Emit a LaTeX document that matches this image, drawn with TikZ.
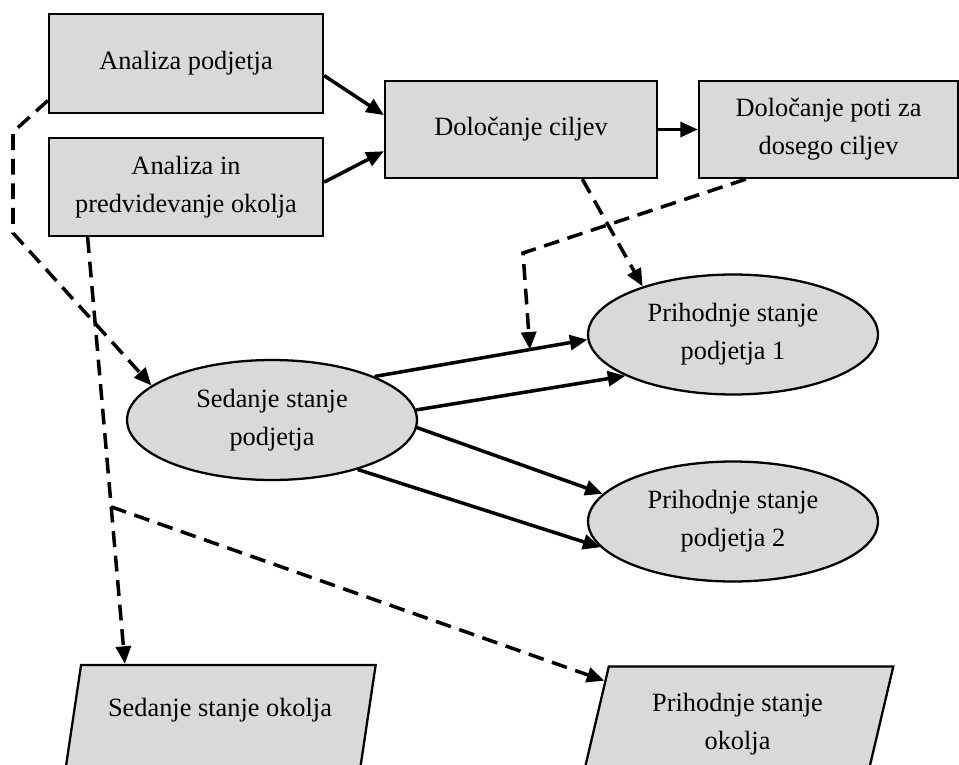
\documentclass[tikz,border=0pt]{standalone}
\usepackage{fontspec}
\setmainfont{Liberation Serif}
\usetikzlibrary{arrows.meta,shapes.geometric}
\definecolor{boxgray}{HTML}{D9D9D9}

\begin{document}
\begin{tikzpicture}[
    x=0.02cm,y=-0.02cm,
    every node/.style={font=\fontsize{15}{21.6}\selectfont,align=center,inner sep=0pt},
    box/.style={draw,line width=1.3pt,fill=boxgray},
    ell/.style={ellipse,draw,line width=1.3pt,fill=boxgray,minimum width=5.8cm,minimum height=2.4cm},
    para/.style={trapezium,trapezium left angle=73.8,trapezium right angle=106.2,trapezium stretches=true,draw,line width=1.3pt,fill=boxgray,minimum width=6.24cm,minimum height=2.24cm},
    arr/.style={-{Triangle[length=10pt,width=8.5pt]},line width=2pt},
    darr/.style={arr,dash pattern=on 9pt off 5pt}
]
\useasboundingbox (0,0) rectangle (959,764);
\clip (0,0) rectangle (959,764);

% analysis boxes
\node[box,minimum width=5.48cm,minimum height=1.98cm] (ap) at (186,63.5) {Analiza podjetja};
\node[box,minimum width=5.48cm,minimum height=1.96cm] (ai) at (186,187) {Analiza in\\predvidevanje okolja};
\node[box,minimum width=5.44cm,minimum height=1.94cm] (dc) at (521,129.5) {Določanje ciljev};
\node[box,minimum width=5.18cm,minimum height=1.94cm] (dp) at (828.5,129.5) {Določanje poti za\\dosego ciljev};

% states
\node[ell] (sed) at (272,420) {Sedanje stanje\\podjetja};
\node[ell] (p1) at (733,334.5) {Prihodnje stanje\\podjetja 1};
\node[ell] (p2) at (733,521.5) {Prihodnje stanje\\podjetja 2};

% environment
\node[para,text depth=16pt] (so) at (220,721) {Sedanje stanje okolja};
\node[para,minimum height=2.3cm] (po) at (737.5,724) {Prihodnje stanje\\okolja};

\coordinate (l1) at (13,132);
\coordinate (l2) at (13,233);
\coordinate (bend) at (523,253);

\draw[arr] (ap.-5) -- (dc.174);
\draw[arr] (ai.2) -- (dc.189);
\draw[arr] (dc) -- (dp);
\draw[arr] (sed.23) -- coordinate[pos=0.73] (meet) (p1.182);
\draw[arr] (sed.4) -- (p1.201);
\draw[arr] (sed.-3) -- (p2.168);
\draw[arr] (sed.-30) -- (p2.191);

\draw[darr] (ap.195) -- (l1) -- (l2) -- (sed.164);
\draw[darr] (ai.207) -- coordinate[pos=0.632] (fork) (so.149);
\draw[darr] (fork) -- (po.162);
\draw[darr] (dc.-39) -- (p1.152);
\draw[darr] (dp.211) -- (bend) -- (meet);
\end{tikzpicture}
\end{document}
